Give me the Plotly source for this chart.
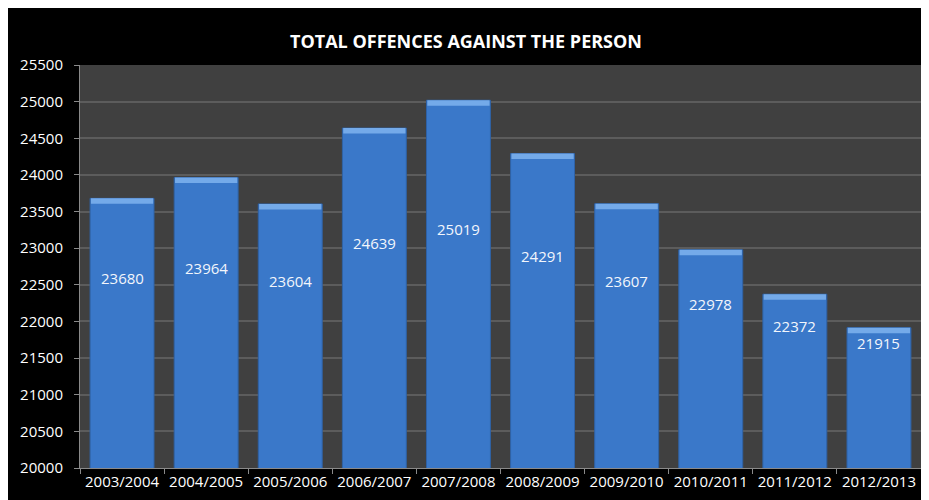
import plotly.graph_objects as go

years = ["2003/2004", "2004/2005", "2005/2006", "2006/2007", "2007/2008",
         "2008/2009", "2009/2010", "2010/2011", "2011/2012", "2012/2013"]
offences = [23680, 23964, 23604, 24639, 25019, 24291, 23607, 22978, 22372, 21915]
y_ticks = list(range(20000, 25501, 500))

title_text = "TOTAL OFFENCES AGAINST THE PERSON"

FONT = "Open Sans"
bevel = 75
label_anchor = 21500

fig = go.Figure()
fig.add_trace(go.Bar(
    x=years, y=offences,
    marker=dict(color="#3a78c9", line=dict(color="#2f62a6", width=1)),
    width=0.76, hoverinfo="x+y",
))
fig.add_trace(go.Bar(
    x=years, y=[bevel] * len(offences), base=[v - bevel for v in offences],
    marker=dict(color="#74aae9", line=dict(width=0)),
    width=0.74, hoverinfo="skip",
))

for yr, v in zip(years, offences):
    fig.add_annotation(x=yr, y=(v + label_anchor) / 2, text=str(v), showarrow=False,
                       font=dict(family=FONT, size=15, color="#f2f6fc"))

W, H = 929, 500
L, R, T, B = 72, 16, 57, 40

fig.update_layout(
    width=W, height=H,
    margin=dict(l=L, r=R, t=T, b=B),
    paper_bgcolor="black", plot_bgcolor="#404040",
    barmode="overlay", showlegend=False,
    title=dict(text="<b>" + title_text + "</b>", x=458 / W, xanchor="center",
               y=1 - 34 / H, yanchor="middle",
               font=dict(family=FONT, size=18, color="white")),
    font=dict(family=FONT, color="white"),
)
fig.update_xaxes(
    showline=True, linecolor="#8a8a8a", linewidth=1,
    ticks="outside", ticklen=5, tickcolor="#8a8a8a", tickson="boundaries",
    tickfont=dict(family=FONT, size=15, color="white"),
    showgrid=False,
)
fig.update_yaxes(
    range=[20000, 25500], tickvals=y_ticks, ticktext=[str(t) for t in y_ticks],
    showline=True, linecolor="#8a8a8a", linewidth=1,
    ticks="outside", ticklen=5, tickcolor="#8a8a8a", ticklabelstandoff=8,
    tickfont=dict(family=FONT, size=15, color="white"),
    showgrid=True, gridcolor="#5c5c5c", gridwidth=2, zeroline=False,
)

fig.write_html("out.html")
